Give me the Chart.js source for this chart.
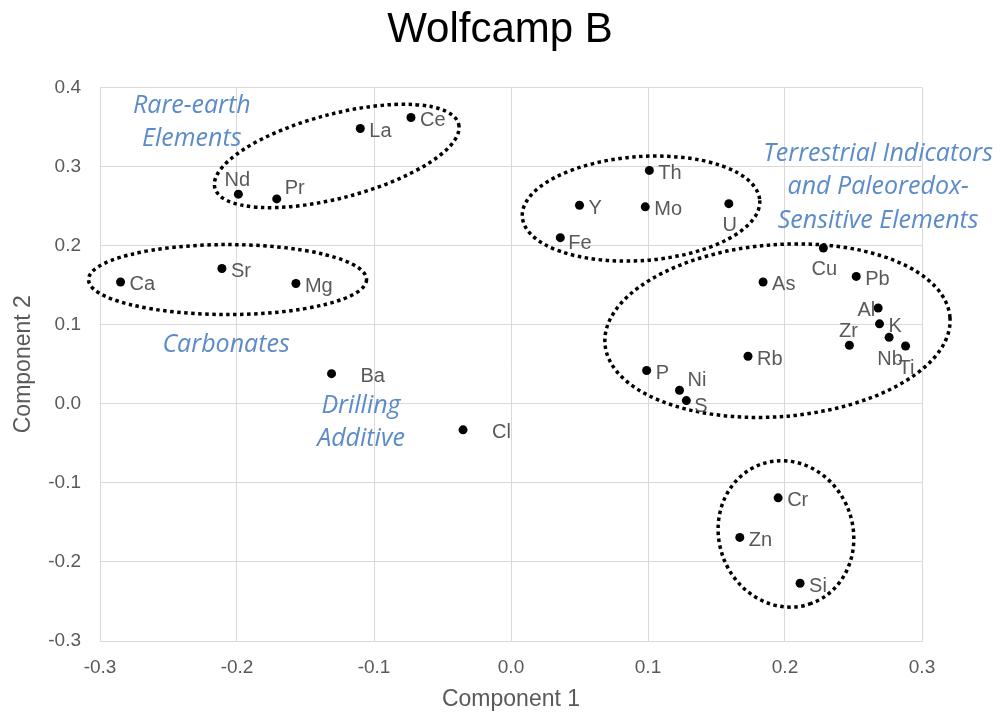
<!DOCTYPE html>
<html>
<head>
<meta charset="utf-8">
<title>Wolfcamp B</title>
<script src="https://cdn.jsdelivr.net/npm/chart.js@4/dist/chart.umd.min.js"></script>
<style>
  body { margin: 0; background: #fff; }
</style>
</head>
<body>
<canvas id="pcaChart" width="1000" height="713"></canvas>
<script>
// element loadings on the first two principal components
const elements = ['Ce', 'La', 'Nd', 'Pr', 'Sr', 'Ca', 'Mg', 'Ba', 'Cl',
    'Th', 'Y', 'Mo', 'U', 'Fe', 'Cu', 'Pb', 'As', 'Al', 'K', 'Nb', 'Zr', 'Ti',
    'Rb', 'P', 'Ni', 'S', 'Cr', 'Zn', 'Si'];
const component1 = [-0.073, -0.110, -0.199, -0.171, -0.211, -0.285, -0.157, -0.131, -0.035,
    0.101, 0.050, 0.098, 0.159, 0.036, 0.228, 0.252, 0.184, 0.268, 0.269, 0.276, 0.247, 0.288,
    0.173, 0.099, 0.123, 0.128, 0.195, 0.167, 0.211];
const component2 = [0.362, 0.348, 0.265, 0.259, 0.171, 0.154, 0.152, 0.038, -0.033,
    0.295, 0.251, 0.249, 0.253, 0.210, 0.197, 0.161, 0.154, 0.121, 0.101, 0.084, 0.074, 0.073,
    0.060, 0.042, 0.017, 0.004, -0.119, -0.169, -0.227];

const groupNames = [
    ['Rare-earth', 'Elements'],
    ['Carbonates'],
    ['Drilling', 'Additive'],
    ['Terrestrial Indicators', 'and Paleoredox-', 'Sensitive Elements']
];

const xMin = -0.3, xMax = 0.3;
const yMin = -0.3, yMax = 0.4;
const tickStep = 0.1;

const fmt = v => (Math.abs(v) < 1e-9 ? 0 : v).toFixed(1);
const sans = '"Liberation Sans", Arial, sans-serif';

// where each element label sits relative to its point
const labelSide = {
    Nd: 'above', Zr: 'above', Pr: 'aboveRight', Ni: 'aboveRight',
    U: 'below', Cu: 'below', Nb: 'below', Ti: 'below',
    Al: 'left', Ba: 'wide', Cl: 'wide', Fe: 'belowRight', S: 'belowRight'
};

const pointLabels = {
    id: 'pointLabels',
    afterDatasetsDraw(chart) {
        const ctx = chart.ctx;
        const meta = chart.getDatasetMeta(0);
        ctx.save();
        ctx.font = '20px ' + sans;
        ctx.fillStyle = '#595959';
        ctx.textBaseline = 'middle';
        meta.data.forEach((pt, i) => {
            const name = elements[i];
            const side = labelSide[name] || 'right';
            let x = pt.x, y = pt.y;
            ctx.textAlign = 'left';
            if (side === 'right') { x += 9; y += 3; }
            else if (side === 'wide') { x += 29; y += 3; }
            else if (side === 'aboveRight') { x += 8; y -= 10; }
            else if (side === 'belowRight') { x += 8; y += 6; }
            else if (side === 'above') { ctx.textAlign = 'center'; x -= 1; y -= 14; }
            else if (side === 'below') { ctx.textAlign = 'center'; x += 1; y += 22; }
            else if (side === 'left') { ctx.textAlign = 'right'; x -= 3; y += 2; }
            ctx.fillText(name, x, y);
        });
        ctx.restore();
    }
};

// dotted rings around each group, centred in data units, radii in pixels
const groupRings = {
    id: 'groupRings',
    afterDatasetsDraw(chart, args, opts) {
        const ctx = chart.ctx;
        const xs = chart.scales.x, ys = chart.scales.y;
        ctx.save();
        ctx.strokeStyle = '#000';
        ctx.lineWidth = 3.5;
        ctx.setLineDash([3.5, 3.5]);
        opts.rings.forEach(r => {
            ctx.beginPath();
            ctx.ellipse(xs.getPixelForValue(r.cx), ys.getPixelForValue(r.cy),
                r.rx, r.ry, r.rot * Math.PI / 180, 0, Math.PI * 2);
            ctx.stroke();
        });
        ctx.restore();
    }
};

const groupText = {
    id: 'groupText',
    afterDatasetsDraw(chart, args, opts) {
        const ctx = chart.ctx;
        const xs = chart.scales.x, ys = chart.scales.y;
        ctx.save();
        ctx.font = 'italic 25px "Open Sans"';
        ctx.fillStyle = '#5b8bc8';
        ctx.textAlign = 'center';
        ctx.textBaseline = 'middle';
        opts.anchors.forEach((a, i) => {
            const x = xs.getPixelForValue(a.x);
            const y = ys.getPixelForValue(a.y) + 2.5;
            groupNames[i].forEach((line, k) => ctx.fillText(line, x, y + k * 33.3));
        });
        ctx.restore();
    }
};

new Chart(document.getElementById('pcaChart'), {
    type: 'scatter',
    data: {
        datasets: [{
            label: 'Wolfcamp B',
            data: elements.map((el, i) => ({ x: component1[i], y: component2[i] })),
            backgroundColor: '#000',
            borderWidth: 0,
            pointRadius: 4.5,
            pointHoverRadius: 4.5
        }]
    },
    options: {
        responsive: false,
        animation: false,
        layout: { padding: 0 },
        scales: {
            x: {
                type: 'linear',
                min: xMin,
                max: xMax,
                afterFit: s => { s.height = 72; },
                ticks: { stepSize: tickStep, callback: fmt, color: '#595959', font: { family: sans, size: 19 }, padding: 15 },
                grid: { color: '#d9d9d9', drawTicks: false },
                border: { color: '#d9d9d9' },
                title: { display: true, text: 'Component 1', color: '#595959', font: { family: sans, size: 23 }, padding: { top: 0, bottom: 0 } }
            },
            y: {
                type: 'linear',
                min: yMin,
                max: yMax,
                afterFit: s => { s.width = 100; },
                ticks: { stepSize: tickStep, callback: fmt, color: '#595959', font: { family: sans, size: 19 }, padding: 19 },
                grid: { color: '#d9d9d9', drawTicks: false },
                border: { color: '#d9d9d9' },
                title: { display: true, text: 'Component 2', color: '#595959', font: { family: sans, size: 23 }, padding: { top: 10, bottom: 0 } }
            },
            // empty strip on the right, keeps room for the group captions
            side: {
                type: 'linear',
                position: 'right',
                min: yMin,
                max: yMax,
                afterFit: s => { s.width = 78; },
                ticks: { display: false },
                grid: { display: false },
                border: { display: false }
            }
        },
        plugins: {
            legend: { display: false },
            tooltip: { enabled: false },
            title: {
                display: true,
                text: 'Wolfcamp B',
                color: '#000',
                font: { family: sans, size: 42, weight: 'normal' },
                padding: { top: 5, bottom: 32 }
            },
            groupRings: {
                rings: [
                    { cx: -0.1272, cy: 0.3133, rx: 126, ry: 42, rot: -14.7 },
                    { cx: -0.2069, cy: 0.157, rx: 139, ry: 35, rot: 0 },
                    { cx: 0.0949, cy: 0.2468, rx: 119, ry: 52, rot: -4 },
                    { cx: 0.1945, cy: 0.0924, rx: 173, ry: 86, rot: -4.4 },
                    { cx: 0.2007, cy: -0.1646, rx: 74, ry: 67, rot: 70 }
                ]
            },
            groupText: {
                anchors: [
                    { x: -0.233, y: 0.380 },
                    { x: -0.208, y: 0.078 },
                    { x: -0.1095, y: 0.001 },
                    { x: 0.268, y: 0.319 }
                ]
            }
        }
    },
    plugins: [groupRings, pointLabels, groupText]
});
</script>
</body>
</html>
